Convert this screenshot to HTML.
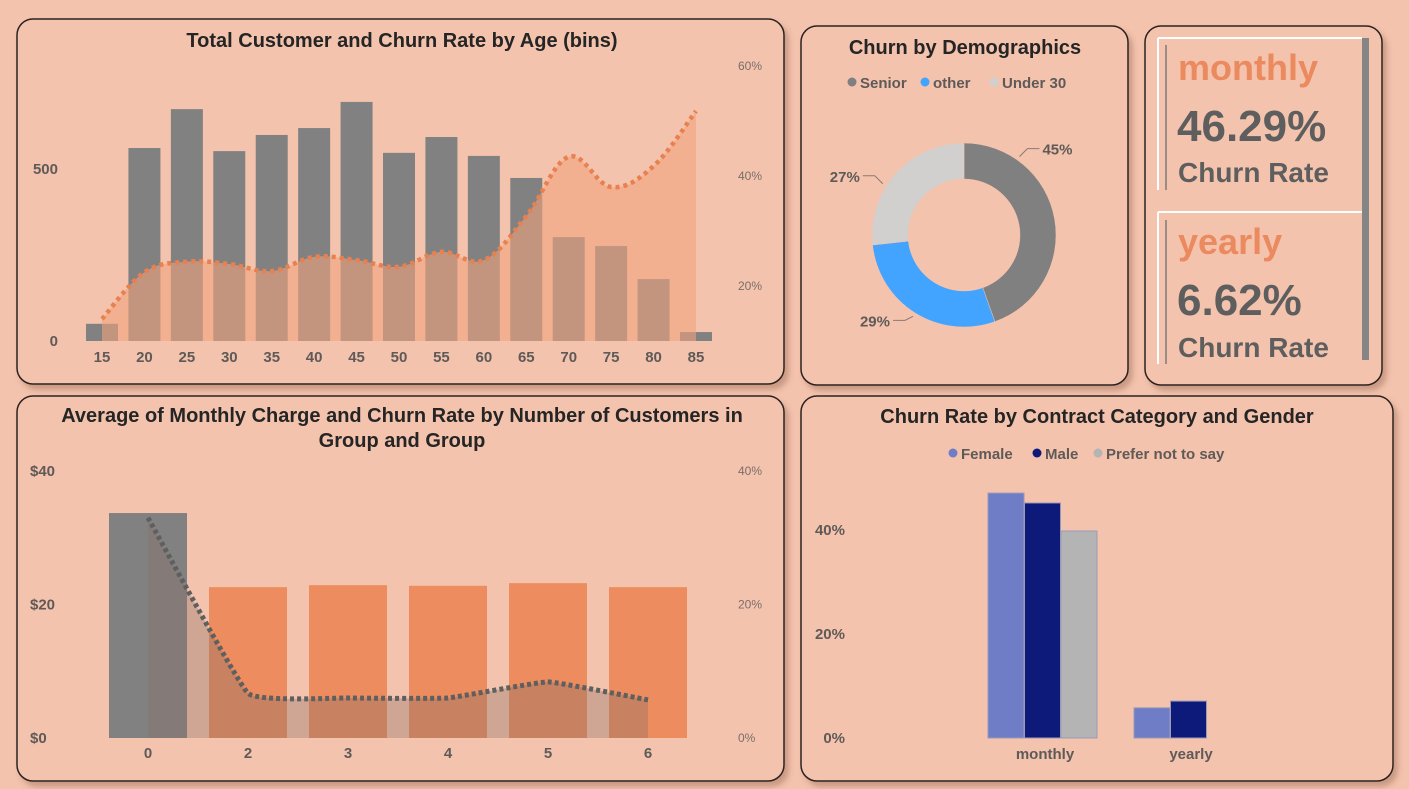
<!DOCTYPE html>
<html><head><meta charset="utf-8"><style>
html,body{margin:0;padding:0;background:#f4c3ad;width:1409px;height:789px;overflow:hidden}
svg{display:block;font-family:"Liberation Sans Narrow","Liberation Sans",sans-serif}
.t{font-weight:bold;fill:#252525;font-size:20px}
.ax{font-weight:bold;fill:#5f5a58;font-size:15px}
.axr{fill:#7a6e6a;font-size:12px}
</style></head><body>
<svg id="s" width="1409" height="789" viewBox="0 0 1409 789">
<defs><filter id="sh" x="-5%" y="-5%" width="115%" height="115%"><feDropShadow dx="4" dy="5" stdDeviation="3" flood-color="#7a4a38" flood-opacity="0.35"/></filter></defs>
<g fill="#f4c3ad" stroke="#2a2020" stroke-width="1.5" filter="url(#sh)">
<rect x="17" y="19" width="767" height="365" rx="16"/>
<rect x="801" y="26" width="327" height="359" rx="16"/>
<rect x="1145" y="26" width="237" height="359" rx="16"/>
<rect x="17" y="396" width="767" height="385" rx="16"/>
<rect x="801" y="396" width="592" height="385" rx="16"/>
</g>
<text class="t" x="402" y="47" text-anchor="middle">Total Customer and Churn Rate by Age (bins)</text>
<text class="t" x="965" y="54" text-anchor="middle">Churn by Demographics</text>
<text class="t" x="402" y="422" text-anchor="middle">Average of Monthly Charge and Churn Rate by Number of Customers in</text>
<text class="t" x="402" y="447" text-anchor="middle">Group and Group</text>
<text class="t" x="1097" y="423" text-anchor="middle">Churn Rate by Contract Category and Gender</text>
<g id="g1"></g>
<g id="g2"></g>
<g id="g3"></g>
<g id="g4"></g>
<g>
<line x1="1158" y1="38" x2="1362" y2="38" stroke="#fff" stroke-width="2"/>
<line x1="1158" y1="38" x2="1158" y2="190" stroke="#fff" stroke-width="2"/>
<line x1="1166" y1="45" x2="1166" y2="190" stroke="#9a8c86" stroke-width="2"/>
<line x1="1158" y1="212" x2="1362" y2="212" stroke="#fff" stroke-width="2"/>
<line x1="1158" y1="212" x2="1158" y2="364" stroke="#fff" stroke-width="2"/>
<line x1="1166" y1="220" x2="1166" y2="364" stroke="#9a8c86" stroke-width="2"/>
<rect x="1362" y="38" width="7" height="322" fill="#858585"/>
<text x="1178" y="80" font-size="36" font-weight="bold" fill="#ea8a5e" font-family="Liberation Sans">monthly</text>
<text x="1177" y="141" font-size="44" font-weight="bold" fill="#5e5e5e" font-family="Liberation Sans">46.29%</text>
<text x="1178" y="182" font-size="28" font-weight="bold" fill="#5e5e5e" font-family="Liberation Sans">Churn Rate</text>
<text x="1178" y="254" font-size="36" font-weight="bold" fill="#ea8a5e" font-family="Liberation Sans">yearly</text>
<text x="1177" y="315" font-size="44" font-weight="bold" fill="#5e5e5e" font-family="Liberation Sans">6.62%</text>
<text x="1178" y="357" font-size="28" font-weight="bold" fill="#5e5e5e" font-family="Liberation Sans">Churn Rate</text>
</g>
</svg>
<script>
// ---- data ----
const ageCats=[15,20,25,30,35,40,45,50,55,60,65,70,75,80,85];
const ageCustomers=[50,561,674,552,599,619,695,547,593,538,474,302,276,180,26];
const ageChurn=[14,22.5,24.4,24,22.7,25.3,24.7,23.5,26.2,24.7,32.7,43.5,38,41.8,51.8];
const ageLeftTicks=[0,500];
const ageRightTicks=[20,40,60];
const grpCats=['0','2','3','4','5','6'];
const grpCharge=[33.7,22.6,22.9,22.8,23.2,22.6];
const grpChurn=[33,6.7,6,6,8.4,5.7];
const grpLeftTicks=[0,20,40];
const grpRightTicks=[0,20,40];
const demoLabels=['Senior','other','Under 30'];
const demoValues=[45,29,27];
const contractCats=['monthly','yearly'];
const genders=['Female','Male','Prefer not to say'];
const femaleRate=[47.1,5.8];
const maleRate=[45.2,7.1];
const preferRate=[39.8,null];
const contractTicks=[0,20,40];

const NS='http://www.w3.org/2000/svg';
function mk(p,tag,a,txt){const e=document.createElementNS(NS,tag);for(const k in a)e.setAttribute(k,a[k]);if(txt!=null)e.textContent=txt;p.appendChild(e);return e;}
function smooth(pts,t){t=t==null?0.18:t;let d='M'+pts[0][0]+','+pts[0][1];for(let i=0;i<pts.length-1;i++){const p0=pts[i-1]||pts[i],p1=pts[i],p2=pts[i+1],p3=pts[i+2]||p2;d+=` C${p1[0]+(p2[0]-p0[0])*t},${p1[1]+(p2[1]-p0[1])*t} ${p2[0]-(p3[0]-p1[0])*t},${p2[1]-(p3[1]-p1[1])*t} ${p2[0]},${p2[1]}`;}return d;}

// ---- chart 1 ----
(function(){
const g=document.getElementById('g1');
const x=i=>102+i*(696-102)/(ageCats.length-1);
const yL=v=>341-v*(341-169)/500;
const yR=v=>396-v*5.5;
ageLeftTicks.forEach(v=>{const t=mk(g,'text',{x:58,y:yL(v)+5,'text-anchor':'end',class:'ax'},v);

});
ageRightTicks.forEach(v=>{const t=mk(g,'text',{x:738,y:yR(v)+4,class:'axr'},v+'%');

});
ageCats.forEach((c,i)=>{
const b=mk(g,'rect',{x:x(i)-16,y:yL(ageCustomers[i]),width:32,height:341-yL(ageCustomers[i]),fill:'#818181'});


const t=mk(g,'text',{x:x(i),y:362,'text-anchor':'middle',class:'ax'},c);


});
const pts=ageChurn.map((v,i)=>[x(i),yR(v)]);
const d=smooth(pts);
const a=mk(g,'path',{d:d+` L${x(ageCats.length-1)},341 L${x(0)},341 Z`,fill:'#f0a47f',opacity:0.6});


const l=mk(g,'path',{d:d,fill:'none',stroke:'#e8804f','stroke-width':4.5,'stroke-dasharray':'4 4'});


})();

// ---- chart 2 ----
(function(){
const g=document.getElementById('g2');
const x=i=>148+i*100;
const yL=v=>738-v*(738-471)/40;
const yR=v=>738-v*(738-471)/40;
grpLeftTicks.forEach(v=>{const t=mk(g,'text',{x:30,y:yL(v)+5,class:'ax'},'$'+v);

});
grpRightTicks.forEach(v=>{const t=mk(g,'text',{x:738,y:yR(v)+4,class:'axr'},v+'%');

});
grpCats.forEach((c,i)=>{
const b=mk(g,'rect',{x:x(i)-39,y:yL(grpCharge[i]),width:78,height:738-yL(grpCharge[i]),fill:i===0?'#818181':'#ec8c5f'});


const t=mk(g,'text',{x:x(i),y:758,'text-anchor':'middle',class:'ax'},c);


});
const pts=grpChurn.map((v,i)=>[x(i),yR(v)]);
const d=smooth(pts,0.05);
const a=mk(g,'path',{d:d+` L${x(grpCats.length-1)},738 L${x(0)},738 Z`,fill:'#8a7068',opacity:0.35});


const l=mk(g,'path',{d:d,fill:'none',stroke:'#5f5f5f','stroke-width':5,'stroke-dasharray':'4 3'});


})();

// ---- donut ----
(function(){
const g=document.getElementById('g3');
const cols=['#808080','#42a4ff','#d2d0ce'];
const cx=964,cy=235,R=92,r=56;
const lx=[848,921,990];
demoLabels.forEach((n,i)=>{
const c=mk(g,'circle',{cx:lx[i]+4,cy:82,r:4.5,fill:cols[i]});


const t=mk(g,'text',{x:lx[i]+12,y:88,class:'ax','font-size':17},n);


});
const tot=demoValues.reduce((a,b)=>a+b,0);
const labelFrac=[0.22,0.5,0.4];
let a0=-Math.PI/2;
demoValues.forEach((v,i)=>{
const a1=a0+v/tot*2*Math.PI;
const P=(rad,a)=>[cx+rad*Math.cos(a),cy+rad*Math.sin(a)];
const [x1,y1]=P(R,a0),[x2,y2]=P(R,a1),[x3,y3]=P(r,a1),[x4,y4]=P(r,a0);
const lg=(a1-a0)>Math.PI?1:0;
const s=mk(g,'path',{d:`M${x1},${y1} A${R},${R} 0 ${lg} 1 ${x2},${y2} L${x3},${y3} A${r},${r} 0 ${lg} 0 ${x4},${y4} Z`,fill:cols[i],stroke:'#f4c3ad','stroke-width':0.5});


const am=a0+(a1-a0)*labelFrac[i];
const [px,py]=P(R+4,am);
const right=Math.cos(am)>=0;
const up=Math.sin(am)<0;
const ky=up?py-8:py+4;
const ex=right?px+20:px-20;
const ln=mk(g,'polyline',{points:`${px},${py} ${px+(right?8:-8)},${ky} ${ex},${ky}`,fill:'none',stroke:'#8a7a74','stroke-width':1});


const t=mk(g,'text',{x:right?ex+3:ex-3,y:ky+6,'text-anchor':right?'start':'end',class:'ax','font-size':18},v+'%');


a0=a1;
});
})();

// ---- contract ----
(function(){
const g=document.getElementById('g4');
const cols=['#6f7cc6','#0e1a7a','#b4b4b4'];
const y=v=>738-v*5.2;
const gx=i=>988+i*146;
contractTicks.forEach(v=>{const t=mk(g,'text',{x:845,y:y(v)+5,'text-anchor':'end',class:'ax'},v+'%');

});
const lx=[948,1032,1093];
genders.forEach((n,i)=>{
const c=mk(g,'circle',{cx:lx[i]+5,cy:453,r:4.5,fill:cols[i]});


const t=mk(g,'text',{x:lx[i]+13,y:459,class:'ax','font-size':17},n);


});
const series=[femaleRate,maleRate,preferRate];
contractCats.forEach((c,ci)=>{
series.forEach((s,si)=>{
if(s[ci]==null)return;
const b=mk(g,'rect',{x:gx(ci)+si*36.5,y:y(s[ci]),width:36,height:738-y(s[ci]),fill:cols[si],stroke:'#9a9ab8','stroke-width':1});


});
const t=mk(g,'text',{x:ci===0?1045:1191,y:759,'text-anchor':'middle',class:'ax'},c);


});
})();
</script>
</body></html>
